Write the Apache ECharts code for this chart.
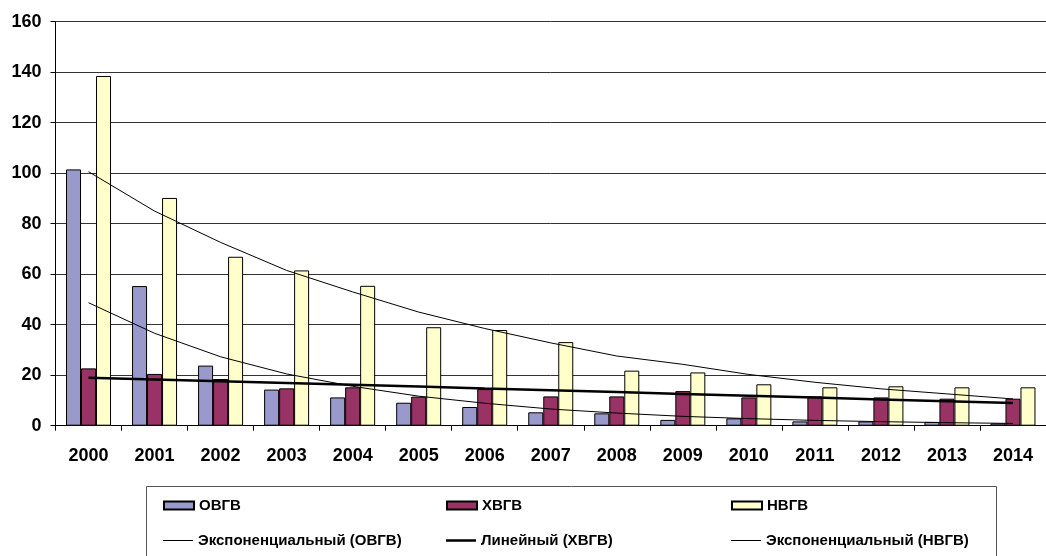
<!DOCTYPE html>
<html>
<head>
<meta charset="utf-8">
<title>ОВГВ / ХВГВ / НВГВ</title>
<script src="https://cdn.jsdelivr.net/npm/echarts@6/dist/echarts.min.js"></script>
<style>
    html, body { margin: 0; padding: 0; background: #fff; }
    #chart { width: 1046px; height: 556px; }
</style>
</head>
<body>
<div id="chart"></div>
<script>
'use strict';

// данные
var years = ['2000', '2001', '2002', '2003', '2004', '2005', '2006', '2007',
    '2008', '2009', '2010', '2011', '2012', '2013', '2014'];
var ovgv = [101.5, 55.3, 23.8, 14.3, 11.2, 9.1, 7.4, 5.3, 4.9, 2.3, 2.9, 1.7, 1.7, 1.5, 0.9];
var hvgv = [22.7, 20.5, 18.5, 14.8, 15.2, 11.5, 14.5, 11.6, 11.6, 13.7, 11.2, 11.6, 11.2, 10.7, 10.7];
var nvgv = [138.5, 90.2, 66.9, 61.5, 55.4, 39.0, 37.9, 33.1, 21.8, 21.1, 16.4, 15.2, 15.6, 15.2, 15.2];

// линии тренда (по рисунку)
var trendOvgv = [48.7, 36.6, 27.3, 20.5, 15.6, 11.7, 8.9, 6.6, 5.0, 3.7, 2.8, 2.1, 1.6, 1.2, 0.9];
var trendHvgv = [19.0, 18.3, 17.6, 16.9, 16.2, 15.5, 14.7, 14.0, 13.3, 12.6, 11.9, 11.2, 10.4, 9.7, 9.0];
var trendNvgv = [100.6, 85.0, 72.6, 61.5, 53.0, 45.0, 38.5, 32.8, 27.6, 24.3, 20.3, 17.2, 14.6, 12.6, 10.6];

var yTicks = { min: 0, max: 160, step: 20 };

var font = '"Liberation Sans", Arial, sans-serif';
var chart = echarts.init(document.getElementById('chart'));

// одна легенда на один элемент — так проще расставить их как в Excel
function legendItem(left, top, name, iconH) {
    return {
        left: left,
        top: top,
        padding: 0,
        itemWidth: 30,
        itemHeight: iconH,
        icon: 'rect',
        selectedMode: false,
        data: [name],
        textStyle: {
            fontFamily: font,
            fontWeight: 'bold',
            fontSize: 15,
            lineHeight: 16,
            color: '#000'
        }
    };
}

function barSeries(name, data, color) {
    return {
        name: name,
        type: 'bar',
        data: data,
        barWidth: 15,
        barGap: '0%',
        itemStyle: { color: color, borderColor: '#000', borderWidth: 1 }
    };
}

function trendSeries(name, data, width) {
    return {
        name: name,
        type: 'line',
        data: data,
        symbol: 'none',
        z: 5,
        silent: true,
        lineStyle: { color: '#000', width: width },
        itemStyle: { color: '#000', borderWidth: 0 }
    };
}

var option = {
    animation: false,
    backgroundColor: '#fff',
    grid: { left: 55.5, top: 21.7, width: 995, height: 404 },
    legend: [
        legendItem(163, 497.5, 'ОВГВ', 8),
        legendItem(446, 497.5, 'ХВГВ', 8),
        legendItem(731, 497.5, 'НВГВ', 8),
        legendItem(163, 532.5, 'Экспоненциальный (ОВГВ)', 1),
        legendItem(446, 532.5, 'Линейный (ХВГВ)', 2.5),
        legendItem(731, 532.5, 'Экспоненциальный (НВГВ)', 1)
    ],
    graphic: [{
        type: 'rect',
        shape: { x: 146.5, y: 486.5, width: 850, height: 80 },
        style: { fill: 'none', stroke: '#555', lineWidth: 1 },
        z: -1
    }],
    xAxis: {
        type: 'category',
        data: years,
        axisLine: { lineStyle: { color: '#000', width: 1 } },
        axisTick: { show: true, length: 5, lineStyle: { color: '#000' } },
        axisLabel: {
            margin: 21,
            fontFamily: font,
            fontWeight: 'bold',
            fontSize: 18,
            color: '#000'
        }
    },
    yAxis: {
        type: 'value',
        min: yTicks.min,
        max: yTicks.max,
        interval: yTicks.step,
        axisLine: { show: true, lineStyle: { color: '#000', width: 1 } },
        axisTick: { show: true, length: 5, lineStyle: { color: '#000' } },
        splitLine: { lineStyle: { color: '#333', width: 1 } },
        axisLabel: {
            margin: 14,
            fontFamily: font,
            fontWeight: 'bold',
            fontSize: 18,
            color: '#000'
        }
    },
    series: [
        barSeries('ОВГВ', ovgv, '#9999CC'),
        barSeries('ХВГВ', hvgv, '#993366'),
        barSeries('НВГВ', nvgv, '#FFFFCC'),
        trendSeries('Экспоненциальный (ОВГВ)', trendOvgv, 1),
        trendSeries('Линейный (ХВГВ)', trendHvgv, 2.5),
        trendSeries('Экспоненциальный (НВГВ)', trendNvgv, 1)
    ]
};

chart.setOption(option);
</script>
</body>
</html>
